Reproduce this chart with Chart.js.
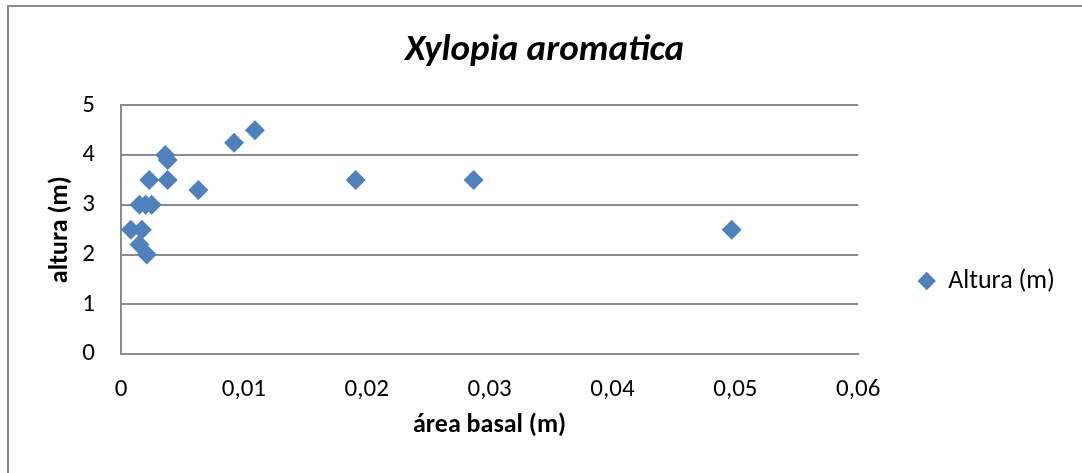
<!DOCTYPE html>
<html>
<head>
<meta charset="utf-8">
<script src="https://cdn.jsdelivr.net/npm/chart.js@4"></script>
<style>
  html, body { margin: 0; padding: 0; background: #fff; overflow: hidden; }
  #frame { position: absolute; left: 7px; top: 5px; width: 1200px; height: 600px; border: 2px solid #898989; }
  #chart { position: absolute; left: 0; top: 0; }
</style>
</head>
<body>
<div id="frame"></div>
<canvas id="chart" width="1082" height="473"></canvas>
<script>
// area basal (m) vs altura (m)
var areaBasal = [0.0109, 0.0092, 0.0036, 0.0038, 0.0023, 0.0038, 0.0063, 0.0015, 0.0020, 0.0025,
                 0.0008, 0.0017, 0.0015, 0.0021, 0.0191, 0.0287, 0.0497];
var altura = [4.5, 4.25, 4.0, 3.9, 3.5, 3.5, 3.3, 3.0, 3.0, 3.0,
              2.5, 2.5, 2.2, 2.0, 3.5, 3.5, 2.5];
var xTickLabels = ['0', '0,01', '0,02', '0,03', '0,04', '0,05', '0,06'];
var yTickLabels = ['0', '1', '2', '3', '4', '5'];
var yAxisTitle = 'altura (m)';

var fontFamily = 'Carlito, Lato, sans-serif';
Chart.defaults.font.family = fontFamily;
Chart.defaults.color = '#000';

var points = [];
for (var i = 0; i < areaBasal.length; i++) {
    points.push({x: areaBasal[i], y: altura[i]});
}

// y axis title drawn next to the y scale (rotated)
var yTitlePlugin = {
    id: 'yTitle',
    afterDraw: function (chart) {
        var s = chart.scales.y;
        var c = chart.ctx;
        c.save();
        c.translate(s.left + 36, (s.top + s.bottom) / 2);
        c.rotate(-Math.PI / 2);
        c.font = 'bold 26px ' + fontFamily;
        c.fillStyle = '#000';
        c.textAlign = 'center';
        c.textBaseline = 'middle';
        c.fillText(yAxisTitle, 0, 0);
        c.restore();
    }
};

var gridColor = '#8c8c8c';
var ctx = document.getElementById('chart').getContext('2d');
var chart = new Chart(ctx, {
    type: 'scatter',
    data: {
        datasets: [{
            label: 'Altura (m)',
            data: points,
            pointStyle: 'rectRot',
            pointRadius: 10,
            pointHoverRadius: 10,
            borderWidth: 0,
            backgroundColor: '#4F81BD',
            borderColor: '#4F81BD'
        }]
    },
    plugins: [yTitlePlugin],
    options: {
        responsive: false,
        animation: false,
        layout: { padding: { left: 24, right: 17, top: 0, bottom: 0 } },
        plugins: {
            tooltip: { enabled: false },
            title: {
                display: true,
                text: 'Xylopia aromatica',
                font: { size: 37, weight: 'bold', style: 'italic' },
                padding: { top: 29, bottom: 32 }
            },
            legend: {
                position: 'right',
                align: 'end',
                fullSize: false,
                labels: {
                    usePointStyle: true,
                    boxWidth: 17,
                    boxHeight: 13,
                    padding: 60,
                    font: { size: 26 }
                }
            }
        },
        scales: {
            x: {
                type: 'linear',
                min: 0,
                max: 0.06,
                grid: { display: false, drawTicks: false },
                border: { display: true, color: gridColor, width: 2 },
                ticks: {
                    stepSize: 0.01,
                    padding: 21,
                    font: { size: 25 },
                    maxRotation: 0,
                    callback: function (value, index) { return xTickLabels[index]; }
                },
                title: {
                    display: true,
                    text: 'área basal (m)',
                    font: { size: 26, weight: 'bold' },
                    padding: { top: 0, bottom: 32 }
                },
                afterFit: function (scale) { scale.height = 119; }
            },
            y: {
                min: 0,
                max: 5,
                grid: { color: gridColor, lineWidth: 2, drawTicks: false },
                border: { display: true, color: gridColor, width: 2 },
                ticks: {
                    stepSize: 1,
                    padding: 26,
                    font: { size: 25 },
                    callback: function (value, index) { return yTickLabels[index]; }
                },
                afterFit: function (scale) { scale.width = 97; }
            }
        }
    }
});
</script>
</body>
</html>
